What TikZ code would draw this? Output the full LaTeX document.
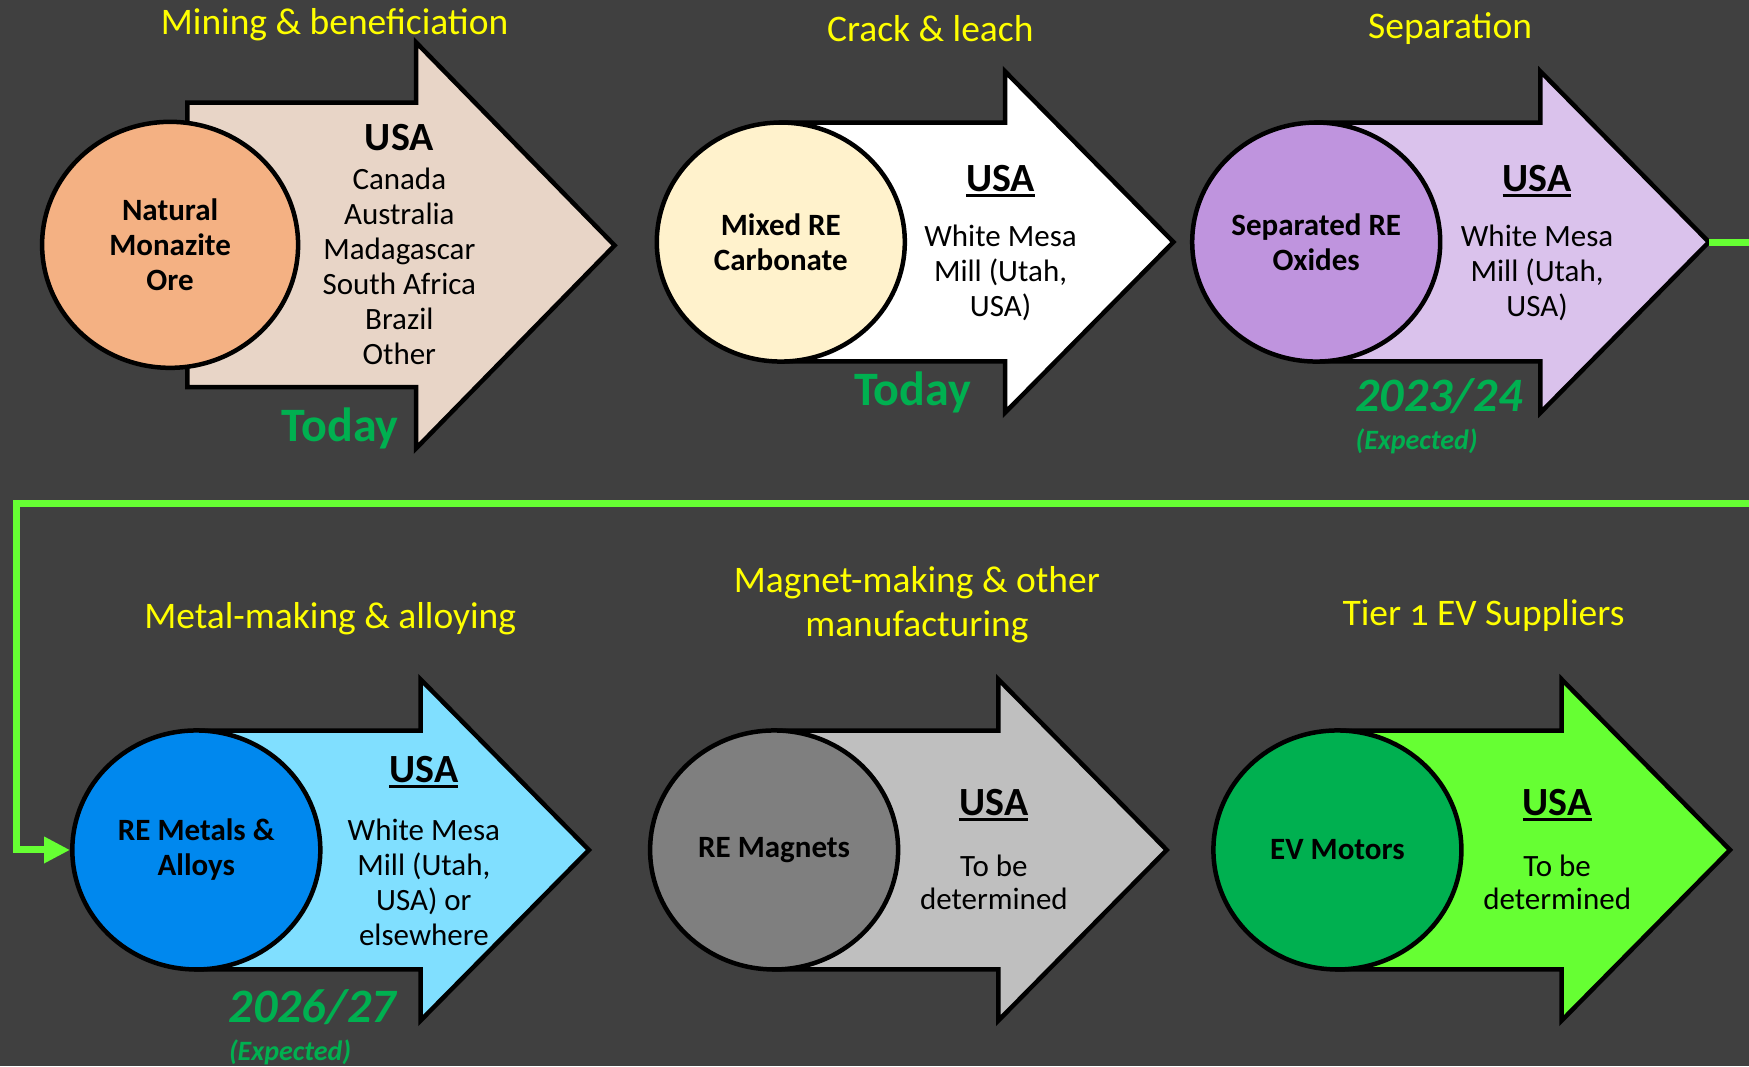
\documentclass[tikz,border=0pt]{standalone}
\usepackage{fontspec}
\setmainfont{Carlito}
\usetikzlibrary{shapes.geometric,arrows.meta}
\definecolor{bg}{HTML}{404040}
\definecolor{ttl}{HTML}{FFFF00}
\definecolor{grn}{HTML}{00B050}
\definecolor{lime}{HTML}{66FF33}
\definecolor{aone}{HTML}{E8D5C7}
\definecolor{cone}{HTML}{F4B183}
\definecolor{ctwo}{HTML}{FFF2CC}
\definecolor{athree}{HTML}{DAC2EC}
\definecolor{cthree}{HTML}{BF94DE}
\definecolor{afour}{HTML}{80DFFF}
\definecolor{cfour}{HTML}{0088EE}
\definecolor{afive}{HTML}{BFBFBF}
\definecolor{cfive}{HTML}{7F7F7F}
\definecolor{csix}{HTML}{00B050}
\newcommand\ulword[1]{\setbox0\hbox{#1}\rlap{\rule[-5.5pt]{\wd0}{2.8pt}}\box0}
\newcommand\ArrShape[3]{%
  \draw[arrowbody,fill=#3] (#1,#2-107) -- (#1+201,#2-107) -- (#1+201,#2-153)
    -- (#1+352,#2) -- (#1+201,#2+153) -- (#1+201,#2+107) -- (#1,#2+107) -- cycle;}
\begin{document}
\begin{tikzpicture}[x=1.1154pt,y=-1.1154pt,
  arrowbody/.style={draw=black,line width=4.5pt,line join=miter},
  orb/.style={ellipse,draw=black,line width=4.5pt,inner sep=0pt,minimum width=248pt,minimum height=239pt,align=center,font=\fontsize{31}{35}\selectfont\bfseries},
  title/.style={text=ttl,align=center,font=\fontsize{37.5}{44}\selectfont},
  usa/.style={font=\fontsize{40}{44}\selectfont\bfseries},
  info/.style={align=center,font=\fontsize{31}{35}\selectfont},
  when/.style={text=grn,font=\fontsize{48}{52}\selectfont\bfseries},
  year/.style={text=grn,font=\fontsize{48}{52}\selectfont\bfseries\itshape},
  expd/.style={text=grn,font=\fontsize{28}{32}\selectfont\bfseries\itshape},
  conn/.style={draw=lime,line width=7pt,line join=miter,-{Triangle[length=26pt,width=25pt]}}]
\useasboundingbox (0,0) rectangle (1568,956);
\fill[bg] (0,0) rectangle (1568,956);
% arrows
\draw[arrowbody,fill=aone] (168,92) -- (373,92) -- (373,38) -- (551,220) -- (373,402) -- (373,347) -- (168,347) -- cycle;
\ArrShape{700}{217}{white}
\ArrShape{1180}{217}{athree}
\ArrShape{176}{762}{afour}
\ArrShape{694}{762}{afive}
\ArrShape{1199}{762}{lime}
\coordinate (tip3) at (1180+352,217);
% circles
\node[orb,minimum width=256pt,minimum height=246pt,fill=cone] (c1) at (152.5,219.5) {Natural\\Monazite\\Ore};
\node[orb,fill=ctwo] (c2) at (700,217) {Mixed RE\\Carbonate};
\node[orb,fill=cthree] (c3) at (1180,217) {Separated RE\\Oxides};
\node[orb,fill=cfour] (c4) at (176,762) {RE Metals \&\\Alloys};
\node[orb,fill=cfive] (c5) at (694,762) {RE Magnets};
\node[orb,fill=csix] (c6) at (1199,762) {EV Motors};
% connector
\coordinate (rOut) at (1640,217);
\coordinate (rDown) at (1640,451);
\coordinate (lTop) at (15,451);
\draw[conn] (tip3) -- (rOut) -- (rDown) -- (lTop) |- (c4.west);
% titles
\node[title] (t1) at (300,22) {Mining \& beneficiation};
\node[title] (t2) at (834,26) {Crack \& leach};
\node[title] (t3) at (1300,26) {Separation};
\node[title] (t4) at (296,555) {Metal-making \& alloying};
\node[title] (t5) at (822,542) {Magnet-making \& other\\manufacturing};
\node[title] (t6) at (1330,552) {Tier {\addfontfeatures{Numbers=OldStyle}1} EV Suppliers};
% arrow texts
\node[usa] (u1) at (358,123) {USA};
\node[info] (i1) at (358,239) {Canada\\Australia\\Madagascar\\South Africa\\Brazil\\Other};
\node[usa] (u2) at (897,162) {\ulword{USA}};
\node[info] (i2) at (897,245) {White Mesa\\Mill (Utah,\\USA)};
\node[usa] (u3) at (1378,162) {\ulword{USA}};
\node[info] (i3) at (1378,245) {White Mesa\\Mill (Utah,\\USA)};
\node[usa] (u4) at (380,692) {\ulword{USA}};
\node[info] (i4) at (380,791) {White Mesa\\Mill (Utah,\\USA) or\\elsewhere};
\node[usa] (u5) at (891,722) {\ulword{USA}};
\node[info,font=\fontsize{31}{33.5}\selectfont] (i5) at (891,791) {To be\\determined};
\node[usa] (u6) at (1396,722) {\ulword{USA}};
\node[info,font=\fontsize{31}{33.5}\selectfont] (i6) at (1396,791) {To be\\determined};
% timing
\node[when] (w1) at (305,384) {Today};
\node[when] (w2) at (818,352) {Today};
\node[year] (w3) at (1290,355) {2023/24};
\node[expd] (e3) at (1270,396) {(Expected)};
\node[year] (w4) at (280,903) {2026/27};
\node[expd] (e4) at (260,943) {(Expected)};
\end{tikzpicture}
\end{document}
